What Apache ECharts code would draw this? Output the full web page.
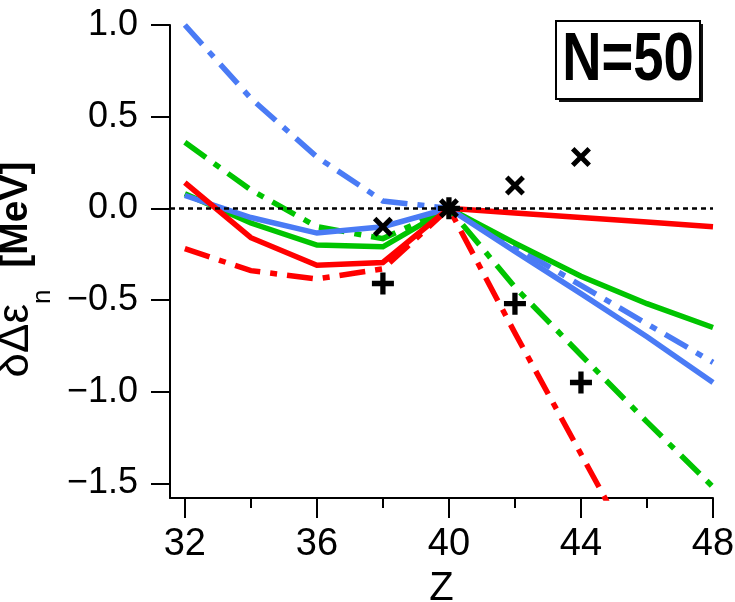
<!DOCTYPE html>
<html>
<head>
<meta charset="utf-8">
<script src="https://cdn.jsdelivr.net/npm/echarts@6/dist/echarts.min.js"></script>
<style>html,body{margin:0;padding:0;background:#fff}#c{width:735px;height:602px}</style>
</head>
<body>
<div id="c"></div>
<script>
// ---- data ----
const Z = [32, 34, 36, 38, 40, 42, 44, 46, 48];
const solidRed   = [0.14, -0.16, -0.31, -0.295, 0, -0.025, -0.05, -0.075, -0.10];
const solidGreen = [0.08, -0.08, -0.20, -0.21, 0, -0.19, -0.37, -0.52, -0.65];
const solidBlue  = [0.07, -0.05, -0.135, -0.10, 0, -0.235, -0.465, -0.70, -0.95];
const ddRed   = [-0.22, -0.34, -0.385, -0.33, 0, -0.68, -1.34, -2.0];
const ddGreen = [0.36, 0.10, -0.10, -0.165, 0, -0.43, -0.80, -1.165, -1.52];
const ddBlue  = [1.0, 0.60, 0.28, 0.04, 0, -0.21, -0.42, -0.63, -0.84];
const expZ = [38, 40, 42, 44];
const expCross = [-0.10, 0, 0.125, 0.28];
const expPlus  = [-0.41, 0, -0.52, -0.95];
const xMajorTicks = [32, 36, 40, 44, 48];
const xMinorTicks = [34, 38, 42, 46];
const yTicks = [-1.5, -1.0, -0.5, 0.0, 0.5, 1.0];
const titleText = 'N=50';

const RED = '#ff0000', GREEN = '#00c400', BLUE = '#4a7bf5';
const FONT = "'Liberation Sans', Arial, sans-serif";
const DASHDOT = [26, 10, 7, 10];

function pairs(xs, ys) { return ys.map((v, i) => [xs[i], v]); }
function lineSeries(name, ys, color, dashed) {
  return {
    name, type: 'line', data: pairs(Z, ys), symbol: 'none', clip: true,
    lineStyle: { color, width: 5.5, type: dashed ? DASHDOT : 'solid', cap: 'butt', join: 'miter' },
    emphasis: { disabled: true }, animation: false
  };
}
const PLUS = 'path://M7.6,0H12.4V7.6H20V12.4H12.4V20H7.6V12.4H0V7.6H7.6Z';
const CROSS = 'path://M0,3.5L3.5,0L10,6.5L16.5,0L20,3.5L13.5,10L20,16.5L16.5,20L10,13.5L3.5,20L0,16.5L6.5,10Z';

const chart = echarts.init(document.getElementById('c'), null, { renderer: 'canvas' });
const xMin = 31.55, xMax = 48, yMin = -1.58, yMax = 1.0;
const fmt = v => (v < 0 ? '\u2212' : '') + Math.abs(v).toFixed(1);

chart.setOption({
  animation: false,
  backgroundColor: '#fff',
  grid: { left: 170, right: 22, top: 25, bottom: 104, containLabel: false, outerBoundsMode: 'none' },
  xAxis: [{
    type: 'value', min: xMin, max: xMax, position: 'bottom',
    name: 'Z', nameLocation: 'middle', nameGap: 64,
    nameTextStyle: { fontFamily: FONT, fontSize: 40, color: '#000' },
    axisLine: { show: true, onZero: false, lineStyle: { color: '#000', width: 2 } },
    axisTick: { show: true, customValues: xMajorTicks, length: 20, lineStyle: { color: '#000', width: 2 } },
    axisLabel: { customValues: xMajorTicks, margin: 28, fontFamily: FONT, fontSize: 38, color: '#000', formatter: v => String(v) },
    splitLine: { show: false }
  }, {
    type: 'value', min: xMin, max: xMax, position: 'bottom',
    axisLine: { show: false, onZero: false },
    axisTick: { show: true, customValues: xMinorTicks, length: 10, lineStyle: { color: '#000', width: 2 } },
    axisLabel: { show: false },
    splitLine: { show: false }
  }],
  yAxis: {
    type: 'value', min: yMin, max: yMax,
    name: '{a|δΔε}{sub|n}{b|  [MeV]}', nameLocation: 'middle', nameGap: 96, nameRotate: 90,
    nameTextStyle: {
      color: '#000',
      rich: {
        a: { fontFamily: "'Liberation Sans', sans-serif", fontSize: 44, color: '#000' },
        sub: { fontFamily: "'Liberation Sans', sans-serif", fontSize: 26, color: '#000', padding: [54, 0, 0, 0] },
        b: { fontFamily: "'Liberation Sans', sans-serif", fontSize: 39, fontWeight: 'bold', color: '#000', padding: [0, 16, 0, 0] }
      }
    },
    axisLine: { show: true, onZero: false, lineStyle: { color: '#000', width: 2 } },
    axisTick: { show: true, customValues: yTicks, length: 19, lineStyle: { color: '#000', width: 2 } },
    axisLabel: { customValues: yTicks, margin: 32, fontFamily: FONT, fontSize: 36, color: '#000', formatter: fmt },
    splitLine: { show: false }
  },
  series: [
    Object.assign(lineSeries('ddBlue', ddBlue, BLUE, true), {
      markLine: {
        silent: true, symbol: 'none', label: { show: false },
        lineStyle: { color: '#000', width: 2.5, type: [5, 4] },
        data: [{ yAxis: 0 }], animation: false
      }
    }),
    lineSeries('ddGreen', ddGreen, GREEN, true),
    lineSeries('ddRed', ddRed, RED, true),
    lineSeries('solidGreen', solidGreen, GREEN, false),
    lineSeries('solidBlue', solidBlue, BLUE, false),
    lineSeries('solidRed', solidRed, RED, false),
    {
      name: 'expPlus', type: 'scatter', data: pairs(expZ, expPlus), symbol: PLUS, symbolSize: 22,
      itemStyle: { color: '#000', opacity: 1 }, z: 5, emphasis: { disabled: true }
    },
    {
      name: 'expCross', type: 'scatter', data: pairs(expZ, expCross), symbol: CROSS, symbolSize: 20,
      itemStyle: { color: '#000', opacity: 1 }, z: 5, emphasis: { disabled: true }
    }
  ],
  graphic: [
    { type: 'rect', shape: { x: 559, y: 24, width: 144, height: 78 }, style: { fill: '#111' }, z: 10 },
    { type: 'rect', shape: { x: 556, y: 21, width: 144, height: 78 }, style: { fill: '#fff', stroke: '#000', lineWidth: 2 }, z: 11 },
    { type: 'text', x: 628, y: 61, z: 12, scaleX: 0.8,
      style: { text: titleText, align: 'center', verticalAlign: 'middle', font: "bold 68px 'Liberation Sans', Arial, sans-serif", fill: '#000' } }
  ]
});
</script>
</body>
</html>
